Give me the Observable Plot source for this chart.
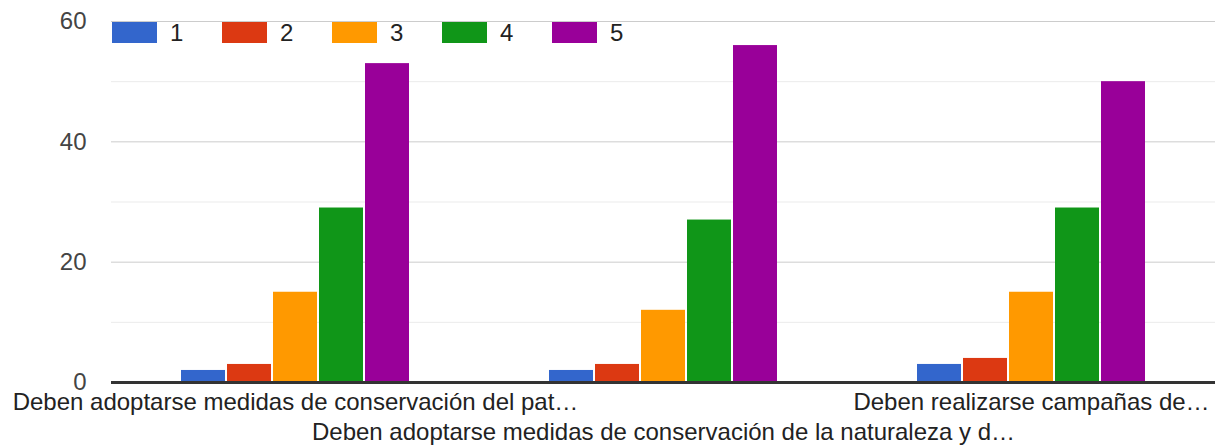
<!DOCTYPE html>
<html>
<head>
<meta charset="utf-8">
<script src="https://cdn.jsdelivr.net/npm/d3@7"></script>
<script src="https://cdn.jsdelivr.net/npm/@observablehq/plot@0.6"></script>
<style>
  html, body { margin: 0; padding: 0; background: #fff; }
  #wrap { position: relative; width: 1217px; height: 448px; font-family: "Liberation Sans", Arial, sans-serif; }
  #legend { position: absolute; left: 112px; top: 22px; display: flex; }
  .item { display: flex; align-items: center; width: 110px; height: 21px; font-size: 24px; color: #222; }
  .sw { width: 45px; height: 21px; margin-right: 13px; }
</style>
</head>
<body>
<div id="wrap"><div id="legend"></div></div>
<script>
const groups = [
  "Deben adoptarse medidas de conservación del pat…",
  "Deben adoptarse medidas de conservación de la naturaleza y d…",
  "Deben realizarse campañas de…"
];
const series = ["1", "2", "3", "4", "5"];
const colors = ["#3366cc", "#dc3912", "#ff9900", "#109618", "#990099"];
const values1 = [2, 3, 15, 29, 53];
const values2 = [2, 3, 12, 27, 56];
const values3 = [3, 4, 15, 29, 50];
const yTicks = [0, 20, 40, 60];
const minorGrid = [10, 30, 50];
const majorGrid = [20, 40, 60];

const valuesByGroup = [values1, values2, values3];
const data = [];
groups.forEach((g, gi) => series.forEach((s, si) => data.push({group: g, series: s, value: valuesByGroup[gi][si]})));
const labelRows = groups.map((g, i) => ({group: g, row: i % 2}));

const chart = Plot.plot({
  width: 1217,
  height: 448,
  marginLeft: 111,
  marginRight: 2,
  marginTop: 21,
  marginBottom: 66,
  style: {fontFamily: '"Liberation Sans", Arial, sans-serif', fontSize: "24px", color: "#444", background: "#fff"},
  fx: {domain: groups, padding: 0, axis: null},
  x: {domain: series, paddingInner: 0.04, paddingOuter: 1.52, axis: null},
  y: {domain: [0, 60], ticks: yTicks, tickSize: 0, tickPadding: 25, label: null},
  color: {domain: series, range: colors},
  marks: [
    Plot.ruleY(minorGrid, {stroke: "#ebebeb", strokeWidth: 1}),
    Plot.ruleY(majorGrid, {stroke: "#cccccc", strokeWidth: 1}),
    Plot.barY(data, {fx: "group", x: "series", y: "value", fill: "series"}),
    Plot.ruleY([0], {stroke: "#333", strokeWidth: 3}),
    Plot.text(labelRows.filter(d => d.row === 0), {fx: "group", text: "group", frameAnchor: "bottom", lineAnchor: "middle", dy: 20, fill: "#222", fontSize: 24}),
    Plot.text(labelRows.filter(d => d.row === 1), {fx: "group", text: "group", frameAnchor: "bottom", lineAnchor: "middle", dy: 50, fill: "#222", fontSize: 24})
  ]
});
document.getElementById("wrap").prepend(chart);
chart.style.position = "absolute";
chart.style.left = "0";
chart.style.top = "0";

const legend = document.getElementById("legend");
series.forEach((s, i) => {
  const item = document.createElement("div");
  item.className = "item";
  const sw = document.createElement("div");
  sw.className = "sw";
  sw.style.background = colors[i];
  item.appendChild(sw);
  item.appendChild(document.createTextNode(s));
  legend.appendChild(item);
});
</script>
</body>
</html>
